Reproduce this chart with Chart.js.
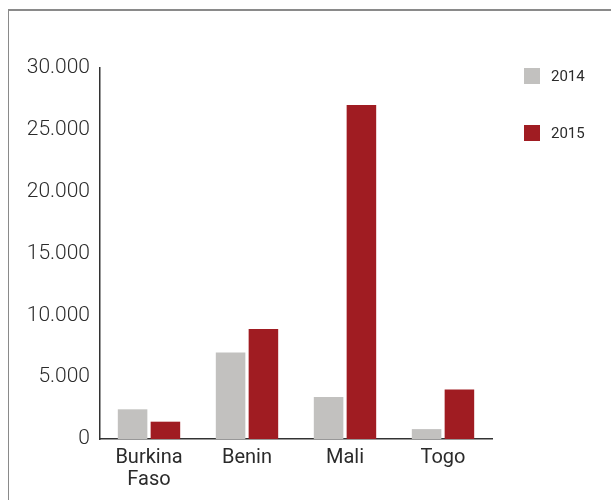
<!DOCTYPE html>
<html>
<head>
<meta charset="utf-8">
<script src="https://cdn.jsdelivr.net/npm/chart.js@4/dist/chart.umd.min.js"></script>
<style>
  html, body { margin: 0; padding: 0; background: #fff; overflow: hidden; }
  #frame {
    position: absolute; left: 8px; top: 9px;
    width: 603px; height: 491px;
    border-left: 1px solid #8a8a8a; border-top: 2px solid #8a8a8a;
  }
  #wrap { position: absolute; left: 0; top: 0; width: 603px; height: 489px; }
</style>
</head>
<body>
<div id="frame"><div id="wrap"><canvas id="myChart"></canvas></div></div>
<script>
const countries = [['Burkina', 'Faso'], 'Benin', 'Mali', 'Togo']
const values2014 = [2400, 7000, 3400, 800]
const values2015 = [1400, 8900, 27000, 4000]
const yTicks = [0, 5000, 10000, 15000, 20000, 25000, 30000]

const gray = '#c2c1bf'
const red = '#a01c22'
const textColor = '#2b2b2b'

// thousands with a dot, like 30.000
const fmt = v => String(v).replace(/\B(?=(\d{3})+(?!\d))/g, '.')

// ***** legend on the right, boxes far apart *****
const sideLegend = {
  id: 'sideLegend',
  afterDraw(chart) {
    const { ctx, chartArea } = chart
    const x = chartArea.right + 32
    ctx.save()
    ctx.font = '400 15px Roboto'
    ctx.textBaseline = 'middle'
    chart.data.datasets.forEach((ds, i) => {
      const y = chartArea.top + i * 57
      ctx.fillStyle = ds.backgroundColor
      ctx.fillRect(x, y, 16, 16)
      ctx.fillStyle = textColor
      ctx.fillText(ds.label, x + 27, y + 9)
    })
    ctx.restore()
  }
}

const ctx = document.getElementById('myChart').getContext('2d')
const myChart = new Chart(ctx, {
  type: 'bar',
  data: {
    labels: countries,
    datasets: [
      { label: '2014', data: values2014, backgroundColor: gray },
      { label: '2015', data: values2015, backgroundColor: red }
    ]
  },
  options: {
    responsive: true,
    maintainAspectRatio: false,
    animation: false,
    categoryPercentage: 0.67,
    barPercentage: 0.9,
    layout: { padding: { top: 57, left: 0, right: 120, bottom: 0 } },
    plugins: {
      tooltip: { enabled: false },
      legend: { display: false }
    },
    scales: {
      x: {
        grid: { display: false, drawTicks: false },
        border: { color: '#333', width: 1.5 },
        afterFit: axis => { axis.height = 61 },
        ticks: {
          color: textColor,
          padding: 8,
          maxRotation: 0,
          font: { family: 'Roboto', size: 20, lineHeight: 1.1 }
        }
      },
      y: {
        min: 0,
        max: 30000,
        afterBuildTicks: axis => { axis.ticks = yTicks.map(v => ({ value: v })) },
        afterFit: axis => { axis.width = 91 },
        grid: { display: false, drawTicks: false },
        border: { color: '#333', width: 1.5 },
        ticks: {
          color: textColor,
          padding: 10,
          font: { family: 'Roboto', size: 21, weight: '300' },
          callback: v => fmt(v)
        }
      }
    }
  },
  plugins: [sideLegend]
})
</script>
</body>
</html>
